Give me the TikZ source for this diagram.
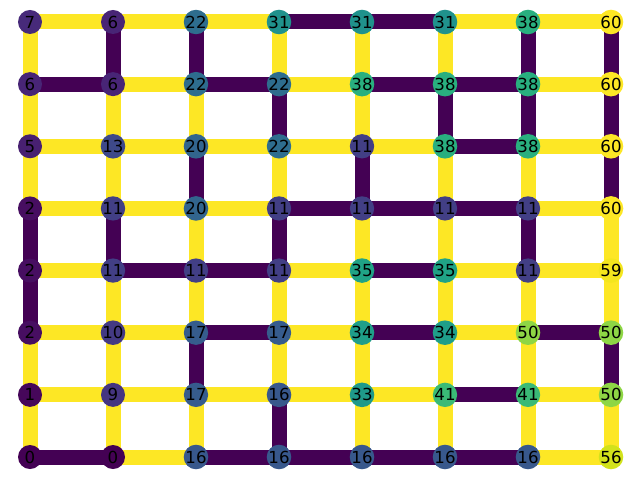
\documentclass[tikz,border=0pt]{standalone}
\usepackage{fontspec}
\setmainfont{DejaVu Sans}
\usetikzlibrary{backgrounds}
\definecolor{vir0}{HTML}{440154}
\definecolor{vir1}{HTML}{46075a}
\definecolor{vir2}{HTML}{470e61}
\definecolor{vir5}{HTML}{482071}
\definecolor{vir6}{HTML}{482576}
\definecolor{vir7}{HTML}{472a7a}
\definecolor{vir9}{HTML}{453581}
\definecolor{vir10}{HTML}{443a83}
\definecolor{vir11}{HTML}{423f85}
\definecolor{vir13}{HTML}{3e4989}
\definecolor{vir16}{HTML}{38588c}
\definecolor{vir17}{HTML}{365c8d}
\definecolor{vir20}{HTML}{32658e}
\definecolor{vir22}{HTML}{2e6d8e}
\definecolor{vir31}{HTML}{20928c}
\definecolor{vir33}{HTML}{1f998a}
\definecolor{vir34}{HTML}{1f9e89}
\definecolor{vir35}{HTML}{20a386}
\definecolor{vir38}{HTML}{29af7f}
\definecolor{vir41}{HTML}{3aba76}
\definecolor{vir50}{HTML}{8ed645}
\definecolor{vir56}{HTML}{d2e21b}
\definecolor{vir59}{HTML}{f4e61e}
\definecolor{vir60}{HTML}{fde725}
\begin{document}
\begin{tikzpicture}[x=2.075cm,y=1.5536cm,
  vert/.style={circle,inner sep=0pt,minimum size=0.6cm,font=\fontsize{11.8}{14}\selectfont},
  edge/.style={line width=0.375cm}]
\useasboundingbox (-0.75cm,-0.575cm) rectangle (15.25cm,11.425cm);
% grid vertices, top row first
\foreach \row [count=\k] in {{7,6,22,31,31,31,38,60},{6,6,22,22,38,38,38,60},{5,13,20,22,11,38,38,60},{2,11,20,11,11,11,11,60},{2,11,11,11,35,35,11,59},{2,10,17,17,34,34,50,50},{1,9,17,16,33,41,41,50},{0,0,16,16,16,16,16,56}}{
  \pgfmathtruncatemacro\y{8-\k}
  \foreach \lab [count=\x from 0] in \row {
    \node[vert,fill=vir\lab](v\x\y) at (\x,\y){\lab};
    \expandafter\xdef\csname lb\x\y\endcsname{\lab}
  }
}
% grid edges: dark where both ends carry the same label
\begin{scope}[on background layer]
\foreach \a in {0,...,7}{
  \foreach \b [evaluate=\b as \n using int(\b+1)] in {0,...,6}{
    \ifnum\csname lb\b\a\endcsname=\csname lb\n\a\endcsname\relax\def\ec{vir0}\else\def\ec{vir60}\fi
    \draw[edge,draw=\ec](v\b\a.center)--(v\n\a.center);
    \ifnum\csname lb\a\b\endcsname=\csname lb\a\n\endcsname\relax\def\ec{vir0}\else\def\ec{vir60}\fi
    \draw[edge,draw=\ec](v\a\b.center)--(v\a\n.center);
  }
}
\end{scope}
\end{tikzpicture}
\end{document}
